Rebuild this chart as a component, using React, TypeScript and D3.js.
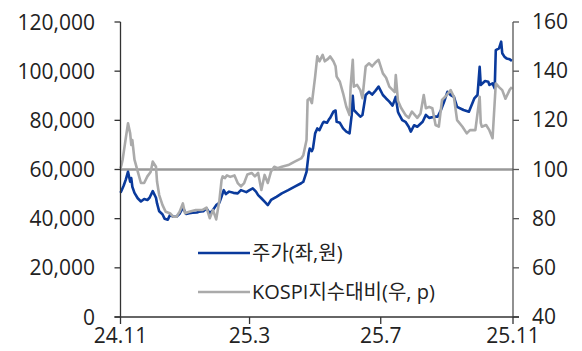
import React from "react";
import * as d3 from "d3";

const priceDates = [
  "2024-11-01","2024-11-02","2024-11-04","2024-11-06","2024-11-08","2024-11-10","2024-11-11","2024-11-12","2024-11-14","2024-11-17","2024-11-20","2024-11-23","2024-11-26","2024-11-28",
  "2024-12-01","2024-12-04","2024-12-05","2024-12-07","2024-12-10","2024-12-12","2024-12-15","2024-12-17","2024-12-20","2024-12-23","2024-12-26","2024-12-29",
  "2025-01-01","2025-01-04","2025-01-07","2025-01-11","2025-01-13","2025-01-17","2025-01-20","2025-01-23","2025-01-26","2025-01-29",
  "2025-02-01","2025-02-03","2025-02-05","2025-02-07","2025-02-10","2025-02-14","2025-02-18","2025-02-21","2025-02-26",
  "2025-03-01","2025-03-04","2025-03-07","2025-03-09","2025-03-12","2025-03-15","2025-03-18","2025-03-21","2025-03-26","2025-03-31",
  "2025-04-06","2025-04-12","2025-04-18","2025-04-20","2025-04-23","2025-04-25","2025-04-26","2025-04-28","2025-04-29",
  "2025-05-01","2025-05-03","2025-05-05","2025-05-08","2025-05-09","2025-05-12","2025-05-14","2025-05-15","2025-05-18","2025-05-20","2025-05-21","2025-05-24","2025-05-27","2025-05-30",
  "2025-06-02","2025-06-04","2025-06-05","2025-06-06","2025-06-09","2025-06-12","2025-06-14","2025-06-17","2025-06-20","2025-06-23","2025-06-26","2025-06-29",
  "2025-07-03","2025-07-06","2025-07-09","2025-07-12","2025-07-15","2025-07-17","2025-07-18","2025-07-21","2025-07-24","2025-07-27","2025-07-29",
  "2025-08-01","2025-08-04","2025-08-09","2025-08-12","2025-08-15","2025-08-20","2025-08-23","2025-08-26","2025-08-29",
  "2025-09-01","2025-09-04","2025-09-07","2025-09-10","2025-09-16","2025-09-21","2025-09-26","2025-09-29",
  "2025-10-01","2025-10-02","2025-10-06","2025-10-09","2025-10-10","2025-10-13","2025-10-15","2025-10-16","2025-10-19","2025-10-21","2025-10-22","2025-10-24","2025-10-26","2025-10-29","2025-10-31"
];
const priceValues = [
  50500,51500,53500,56000,59100,55000,56500,53000,50500,48300,47000,48000,47600,48500,
  51200,48500,46200,43000,41800,40000,39600,41500,40800,40800,42000,44500,
  41900,42200,42400,42500,42800,43000,44200,42200,43500,45500,
  46500,49000,51600,50000,51000,50500,50300,51600,50800,
  51600,52300,51000,49600,48300,46900,45500,47600,48900,50300,
  51600,53000,54400,55000,59000,66600,68500,67500,68600,
  74700,76700,76000,78800,79400,79000,80500,81000,83500,84000,79400,79000,76700,75400,
  74700,82200,90000,84200,82800,81500,82200,90300,91600,90500,92000,93700,
  90300,88900,87600,86000,89600,83500,82500,80100,79400,77400,75400,
  78000,77400,79400,82200,81000,81500,81500,84200,87600,
  91600,90300,89600,85500,84200,83500,88900,90300,
  101800,94400,96000,95700,94400,95000,93000,108600,109300,112000,107300,105900,105200,104800,104200
];

const kospiDates = [
  "2024-11-01","2024-11-02","2024-11-03","2024-11-05","2024-11-06","2024-11-08","2024-11-10","2024-11-11","2024-11-12","2024-11-14","2024-11-17","2024-11-20","2024-11-23","2024-11-26","2024-11-29",
  "2024-12-01","2024-12-04","2024-12-05","2024-12-07","2024-12-10","2024-12-13","2024-12-17","2024-12-20","2024-12-23","2024-12-26","2024-12-29","2024-12-31",
  "2025-01-04","2025-01-10","2025-01-16","2025-01-20","2025-01-23","2025-01-26","2025-01-29",
  "2025-02-01","2025-02-03","2025-02-04","2025-02-06","2025-02-08","2025-02-11","2025-02-15","2025-02-18","2025-02-21","2025-02-24","2025-02-27",
  "2025-03-03","2025-03-06","2025-03-09","2025-03-12","2025-03-15","2025-03-18","2025-03-21","2025-03-24","2025-03-27","2025-03-31",
  "2025-04-06","2025-04-12","2025-04-18","2025-04-20","2025-04-23","2025-04-24","2025-04-26","2025-04-28",
  "2025-05-01","2025-05-03","2025-05-05","2025-05-08","2025-05-10","2025-05-13","2025-05-15","2025-05-18","2025-05-20","2025-05-21","2025-05-24","2025-05-27","2025-05-30",
  "2025-06-02","2025-06-03","2025-06-05","2025-06-06","2025-06-09","2025-06-12","2025-06-14","2025-06-17","2025-06-20","2025-06-23","2025-06-26","2025-06-29",
  "2025-07-03","2025-07-06","2025-07-09","2025-07-14","2025-07-15","2025-07-17","2025-07-20","2025-07-24","2025-07-27","2025-07-30",
  "2025-08-04","2025-08-07","2025-08-10","2025-08-12","2025-08-15","2025-08-18","2025-08-21","2025-08-24","2025-08-27","2025-08-30",
  "2025-09-04","2025-09-07","2025-09-10","2025-09-15","2025-09-19","2025-09-22","2025-09-27",
  "2025-10-01","2025-10-02","2025-10-03","2025-10-07","2025-10-10","2025-10-13","2025-10-16","2025-10-19","2025-10-22","2025-10-25","2025-10-29","2025-10-31"
];
const kospiValues = [
  100.5,102,104,110,113,118.8,114.7,110,112,104,99.2,94.5,94.5,97.2,99,
  103.2,101.1,95,89.6,85.6,82.8,82.2,80.8,80.8,82.8,86.2,82.2,
  82.8,83.5,83.5,84.5,80.2,83.5,79.7,
  87.5,95.8,97.2,96.5,97.6,97.0,97.6,94.5,93.1,94.5,98,
  98.6,97.2,98.6,91.7,97.8,94.5,99.2,101.1,100.5,101.1,
  101.8,103.2,104.5,105.8,112,128.3,129,127,
  137.8,146,144,146.6,144,145,146,144,142,137.8,135.7,131,125.5,
  122.2,133.7,144.6,133.7,134.4,132.3,129,141.9,143.2,142,143.5,144.6,
  139.1,137.3,133.7,131.5,138.4,128,125,122.2,121,123.5,
  121,122.8,130.3,124.9,125.5,124.9,118.1,117.4,128.3,129.6,
  132.3,129.6,120.1,117.4,114.7,116,116,
  129.6,119,117.4,118.1,116,112.7,135,133.5,132.3,128.8,132.5,133.5
];

const leftTicks = [0, 20000, 40000, 60000, 80000, 100000, 120000];
const rightTicks = [40, 60, 80, 100, 120, 140, 160];
const xTickDates = ["2024-11-01", "2025-03-01", "2025-07-01", "2025-11-01"];
const xTickLabels = ["24.11", "25.3", "25.7", "25.11"];
const legendLabels = ["주가(좌,원)", "KOSPI지수대비(우, p)"];
const baseLine = 100;

const W = 582, H = 351;
const L = 120.5, R = 513, T = 22, B = 317;
const FONT = "'Open Sans', 'Noto Sans CJK KR', sans-serif";
const BLUE = "#0a3a9c";
const GRAY = "#aaaaaa";

export default function App() {
  const parse = d3.timeParse("%Y-%m-%d");
  const x = d3.scaleTime()
    .domain([parse("2024-11-01")!, parse("2025-11-01")!])
    .range([L, R]);
  const yL = d3.scaleLinear().domain([0, 120000]).range([B, T]);
  const yR = d3.scaleLinear().domain([40, 160]).range([B, T]);
  const fmt = d3.format(",");

  const priceData = priceDates.map((d, i) => ({ d: parse(d)!, v: priceValues[i] }));
  const kospiData = kospiDates.map((d, i) => ({ d: parse(d)!, v: kospiValues[i] }));

  const linePrice = d3.line<{ d: Date; v: number }>().x(p => x(p.d)).y(p => yL(p.v));
  const lineKospi = d3.line<{ d: Date; v: number }>().x(p => x(p.d)).y(p => yR(p.v));

  return (
    <svg width={W} height={H} style={{ position: "absolute", left: 0, top: 0 }} fontFamily={FONT}>
      <rect width={W} height={H} fill="#fff" />
      <line x1={L} x2={R} y1={yR(baseLine)} y2={yR(baseLine)} stroke="#999" strokeWidth={2.5} />
      <path d={linePrice(priceData) || ""} fill="none" stroke={BLUE} strokeWidth={2.6} strokeLinejoin="round" />
      <path d={lineKospi(kospiData) || ""} fill="none" stroke={GRAY} strokeWidth={2.6} strokeLinejoin="round" />

      <line x1={L} x2={L} y1={T} y2={B} stroke="#333" strokeWidth={1.3} />
      {leftTicks.map(t => (
        <g key={"l" + t}>
          <line x1={L - 6} x2={L} y1={yL(t)} y2={yL(t)} stroke="#333" strokeWidth={1.3} />
          <text x={95} y={yL(t) + 7.5} textAnchor="end" fontSize={21} fill="#222">{fmt(t)}</text>
        </g>
      ))}
      <line x1={R} x2={R} y1={T} y2={B} stroke="#555" strokeWidth={1.3} />
      {rightTicks.map(t => (
        <g key={"r" + t}>
          <line x1={R} x2={R + 6} y1={yR(t)} y2={yR(t)} stroke="#555" strokeWidth={1.3} />
          <text x={532} y={yR(t) + 7} textAnchor="start" fontSize={21} fill="#222">{t}</text>
        </g>
      ))}
      <line x1={L - 6} x2={R + 6} y1={B} y2={B} stroke="#333" strokeWidth={1.3} />
      {xTickDates.map((d, i) => (
        <g key={"x" + d}>
          <line x1={x(parse(d)!)} x2={x(parse(d)!)} y1={B} y2={B + 7} stroke="#333" strokeWidth={1.3} />
          <text x={x(parse(d)!)} y={343} textAnchor="middle" fontSize={21} fill="#222">{xTickLabels[i]}</text>
        </g>
      ))}

      <line x1={198} x2={250} y1={253} y2={253} stroke={BLUE} strokeWidth={2.6} />
      <text x={252} y={260} fontSize={20} fill="#222">{legendLabels[0]}</text>
      <line x1={198} x2={250} y1={292} y2={292} stroke={GRAY} strokeWidth={2.6} />
      <text x={252} y={299} fontSize={20} fill="#222">{legendLabels[1]}</text>
    </svg>
  );
}
